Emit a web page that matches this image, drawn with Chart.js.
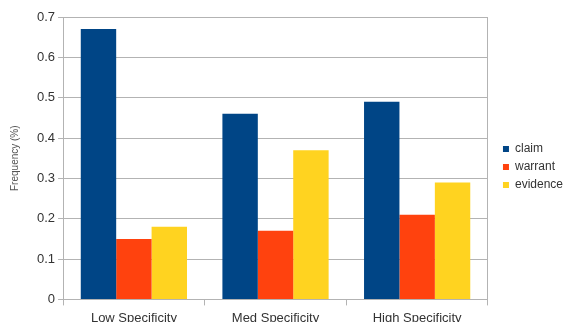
<!DOCTYPE html>
<html>
<head>
<meta charset="utf-8">
<script src="https://cdn.jsdelivr.net/npm/chart.js@4.4.1/dist/chart.umd.min.js"></script>
<style>
  html, body { margin: 0; padding: 0; background: #fff; overflow: hidden; }
  #wrap { position: relative; width: 565px; height: 331px; }
</style>
</head>
<body>
<div id="wrap"><canvas id="chart"></canvas></div>
<script>
// Frequency of argument components by specificity level
const categories = ['Low Specificity', 'Med Specificity', 'High Specificity'];
const claim = [0.67, 0.46, 0.49];
const warrant = [0.15, 0.17, 0.21];
const evidence = [0.18, 0.37, 0.29];
const yTicks = [0, 0.1, 0.2, 0.3, 0.4, 0.5, 0.6, 0.7];

const gridColor = '#b3b3b3';
const font = 'Liberation Sans, Arial, sans-serif';

// Lift the legend block slightly above the vertical centre of the canvas
const legendLift = {
  id: 'legendLift',
  afterLayout(chart) {
    const lg = chart.legend;
    if (lg) { lg.top -= 7; lg.bottom -= 7; }
  }
};

new Chart(document.getElementById('chart'), {
  type: 'bar',
  data: {
    labels: categories,
    datasets: [
      { label: 'claim', data: claim, backgroundColor: '#004586' },
      { label: 'warrant', data: warrant, backgroundColor: '#ff420e' },
      { label: 'evidence', data: evidence, backgroundColor: '#ffd320' }
    ]
  },
  plugins: [legendLift],
  options: {
    responsive: true,
    maintainAspectRatio: false,
    animation: false,
    layout: { padding: { left: 9, right: -8, top: 17, bottom: 0 } },
    datasets: { bar: { categoryPercentage: 0.75, barPercentage: 1.0 } },
    plugins: {
      tooltip: { enabled: false },
      legend: {
        position: 'right',
        labels: {
          boxWidth: 6, boxHeight: 6, padding: 6,
          color: '#333', font: { family: font, size: 12 }
        }
      }
    },
    scales: {
      x: {
        grid: { display: true, drawOnChartArea: false, drawTicks: true, tickLength: 6, color: gridColor, offset: true },
        border: { color: gridColor },
        ticks: { color: '#333', font: { family: font, size: 13 }, padding: 5 }
      },
      y: {
        min: 0, max: 0.7,
        afterBuildTicks: (axis) => { axis.ticks = yTicks.map(v => ({ value: v })); },
        grid: { color: gridColor, tickLength: 5 },
        border: { color: gridColor },
        title: { display: true, text: 'Frequency (%)', color: '#555', font: { family: font, size: 10 }, padding: { top: 0, bottom: 13 } },
        ticks: { color: '#333', font: { family: font, size: 13 }, padding: 3, callback: v => String(v) }
      },
      y2: {
        position: 'right', min: 0, max: 0.7,
        grid: { display: false, drawTicks: false },
        border: { color: gridColor },
        ticks: { display: false },
        afterFit: (axis) => { axis.width += 9; }
      }
    }
  }
});
</script>
</body>
</html>
